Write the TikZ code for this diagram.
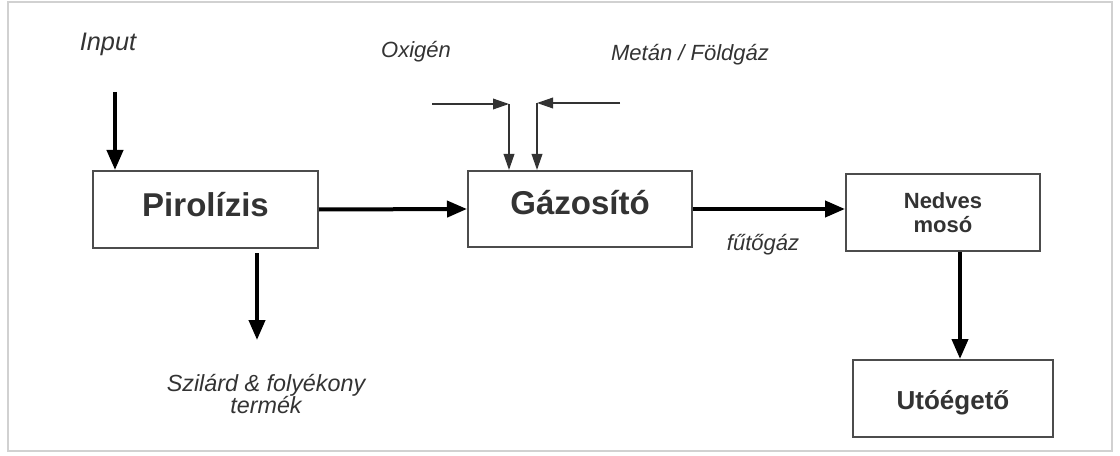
\documentclass[tikz,border=0pt]{standalone}
\usepackage{fontspec}
\setmainfont{Liberation Sans}
\usetikzlibrary{arrows.meta}
\definecolor{szoveg}{gray}{0.2}
\tikzset{
  doboz/.style={draw=black!70,line width=1.5pt,fill=white,text=szoveg,font=\bfseries},
  vastag/.style={line width=3pt,-{Triangle[length=15pt,width=12pt]}},
  vekony/.style={line width=1.1pt,black!80,-{Triangle[length=12pt,width=8pt]}},
  felirat/.style={text=szoveg,font=\itshape\fontsize{16.5}{16.5}\selectfont,align=center}
}
\begin{document}
\begin{tikzpicture}[x=0.75pt,y=-0.75pt]
          \useasboundingbox (0,0) rectangle (1120,456);
          \draw[black!18,line width=1.5pt] (8,2) rectangle (1112,451);
          % boxes
          \node[doboz,minimum width=168.75pt,minimum height=57.75pt,font=\bfseries\fontsize{24.75}{24.75}\selectfont] (pirolizis) at (205.5,209.5) {\raisebox{3.5pt}[\height][\depth]{Pirolízis}};
          \node[doboz,minimum width=168pt,minimum height=57pt,font=\bfseries\fontsize{24.75}{24.75}\selectfont] (gazosito) at (580,209) {\raisebox{4.5pt}[\height][\depth]{Gázosító}};
          \node[doboz,minimum width=145.5pt,minimum height=57.75pt,align=center,font=\bfseries\fontsize{16.5}{18}\selectfont] (nedves) at (943,212.5) {Nedves\\mosó};
          \node[doboz,minimum width=150pt,minimum height=57.75pt,font=\bfseries\fontsize{19.5}{19.5}\selectfont] (utoegeto) at (953,398.5) {\raisebox{-3pt}[\height][\depth]{Utóégető}};
          % labels
          \node[felirat,font=\itshape\fontsize{19}{19}\selectfont] (input) at (108,44) {Input};
          \node[felirat] (oxigen) at (416,52) {Oxigén};
          \node[felirat] (metan) at (690,55) {Metán / Földgáz};
          \node[felirat] (futogaz) at (763,245) {fűtőgáz};
          \node[felirat,font=\itshape\fontsize{17.5}{17}\selectfont] (szilard) at (266,394) {Szilárd \& folyékony\\termék};
          % arrows
          \coordinate (inputveg) at (115,92);
          \coordinate (termek) at (257,340);
          \draw[vastag] (inputveg) -- (inputveg |- pirolizis.north);
          \draw[vastag] (pirolizis.east) -- (gazosito.west);
          \draw[vastag] (gazosito.east) -- (gazosito.east -| nedves.west);
          \draw[vastag] ([yshift=-3pt]termek |- pirolizis.south) -- (termek);
          \draw[vastag] ([xshift=12.75pt]nedves.south) -- ([xshift=5.25pt]utoegeto.north);
          % oxigen es metan
          \coordinate (oxbal) at (432,104);
          \coordinate (oxsarok) at (509,104);
          \coordinate (metjobb) at (620,103);
          \coordinate (metsarok) at (537,103);
          \draw[vekony] (oxbal) -- (oxsarok);
          \draw[vekony] (oxsarok) -- (oxsarok |- gazosito.north);
          \draw[vekony] (metjobb) -- (metsarok);
          \draw[vekony] (metsarok) -- (metsarok |- gazosito.north);
        \end{tikzpicture}
\end{document}
